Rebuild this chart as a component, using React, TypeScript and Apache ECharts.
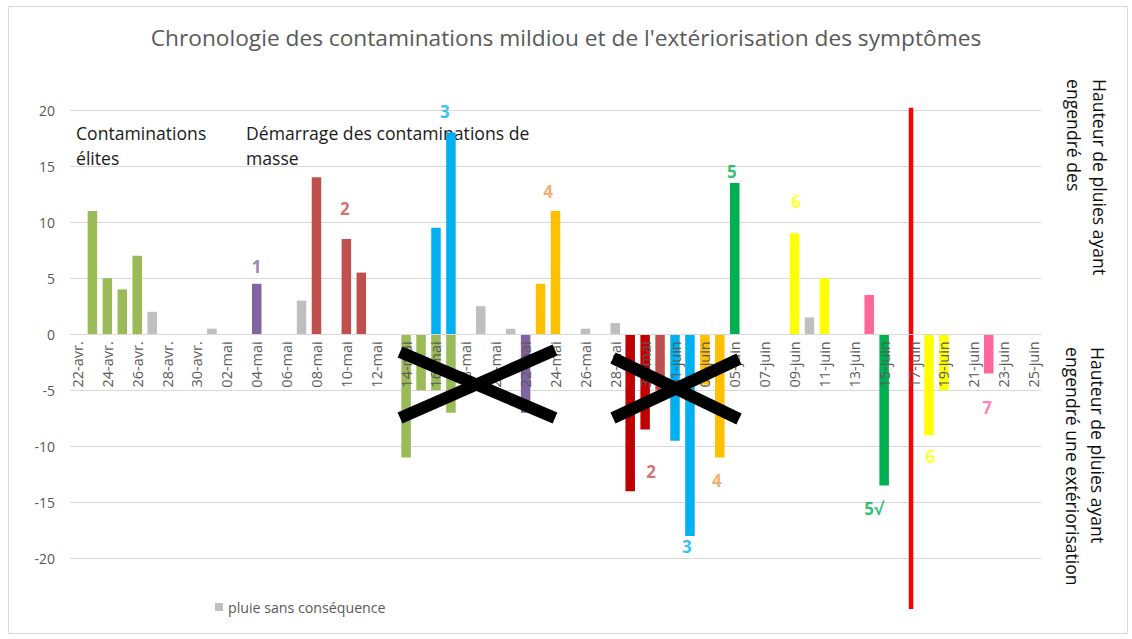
import React, { useEffect, useRef } from "react";
import * as echarts from "echarts";

const titleText = "Chronologie des contaminations mildiou et de l'extériorisation des symptômes";

const categories = [
  "22-avr.", "23-avr.", "24-avr.", "25-avr.", "26-avr.", "27-avr.", "28-avr.", "29-avr.", "30-avr.",
  "01-mai", "02-mai", "03-mai", "04-mai", "05-mai", "06-mai", "07-mai", "08-mai", "09-mai", "10-mai",
  "11-mai", "12-mai", "13-mai", "14-mai", "15-mai", "16-mai", "17-mai", "18-mai", "19-mai", "20-mai",
  "21-mai", "22-mai", "23-mai", "24-mai", "25-mai", "26-mai", "27-mai", "28-mai", "29-mai", "30-mai",
  "31-mai", "01-juin", "02-juin", "03-juin", "04-juin", "05-juin", "06-juin", "07-juin", "08-juin",
  "09-juin", "10-juin", "11-juin", "12-juin", "13-juin", "14-juin", "15-juin", "16-juin", "17-juin",
  "18-juin", "19-juin", "20-juin", "21-juin", "22-juin", "23-juin", "24-juin", "25-juin",
];

const yTicks = { min: -20, max: 20, step: 5 };

// rain heights (mm): positive = contaminating rain, negative = rain that led to symptom appearance
const pluieSansConsequence = [
  ["27-avr.", 2], ["01-mai", 0.5], ["07-mai", 3], ["19-mai", 2.5], ["21-mai", 0.5],
  ["26-mai", 0.5], ["28-mai", 1], ["10-juin", 1.5],
];
const contamElites = [
  ["23-avr.", 11], ["24-avr.", 5], ["25-avr.", 4], ["26-avr.", 7],
  ["14-mai", -11], ["15-mai", -5], ["16-mai", -5], ["17-mai", -7],
];
const contam1 = [["04-mai", 4.5], ["22-mai", -7]];
const contam2 = [["08-mai", 14], ["10-mai", 8.5], ["11-mai", 5.5], ["31-mai", -5]];
const contam2Sortie = [["29-mai", -14], ["30-mai", -8.5]];
const contam3 = [["16-mai", 9.5], ["17-mai", 18], ["01-juin", -9.5], ["02-juin", -18]];
const contam4 = [["23-mai", 4.5], ["24-mai", 11], ["03-juin", -4.5], ["04-juin", -11]];
const contam5 = [["05-juin", 13.5], ["15-juin", -13.5]];
const contam6 = [["09-juin", 9], ["11-juin", 5], ["18-juin", -9], ["19-juin", -5]];
const contam7 = [["14-juin", 3.5], ["22-juin", -3.5]];

// red separator drawn in day units (0 = 22-avr.)
const separatorLine = [[55.8, 20.2], [55.8, -24.5]];

// numbered labels: [day position, height, text]
const numberLabels = [
  [12, 6, "1"], [17.9, 11.2, "2"], [24.6, 19.9, "3"], [31.5, 12.7, "4"],
  [43.8, 14.5, "5"], [48.1, 11.8, "6"],
  [38.4, -12.25, "2"], [40.8, -18.95, "3"], [42.8, -13.0, "4"],
  [53.3, -15.5, "5√"], [57.1, -10.9, "6"], [60.9, -6.56, "7"],
];
const numberLabelColors = [
  "#8064A2", "#C0504D", "#00B0F0", "#F79646", "#00B050", "#FFFF00",
  "#C0504D", "#00B0F0", "#F79646", "#00B050", "#FFFF00", "#FF6699",
];

const barGroups = [
  { name: "pluie sans conséquence", color: "#BFBFBF", data: pluieSansConsequence },
  { name: "Contaminations élites", color: "#9BBB59", data: contamElites },
  { name: "Contamination 1", color: "#8064A2", data: contam1 },
  { name: "Contamination 2", color: "#C0504D", data: contam2 },
  { name: "Contamination 2b", color: "#C00000", data: contam2Sortie },
  { name: "Contamination 3", color: "#00B0F0", data: contam3 },
  { name: "Contamination 4", color: "#FFC000", data: contam4 },
  { name: "Contamination 5", color: "#00B050", data: contam5 },
  { name: "Contamination 6", color: "#FFFF00", data: contam6 },
  { name: "Contamination 7", color: "#FF6699", data: contam7 },
];

const FONT = "'Open Sans', 'Noto Sans', sans-serif";
const GRID_TOP = 110;
const GRID_BOTTOM = 80.5;
const CHART_H = 639;

export default function App() {
  const ref = useRef<HTMLDivElement>(null);

  useEffect(() => {
    if (!ref.current) return;
    const chart = echarts.init(ref.current, undefined, { renderer: "svg" });

    // distance (px) between grid bottom and the value 0, so the category axis sits on zero
    const gridH = CHART_H - GRID_TOP - GRID_BOTTOM;
    const zeroOffset = (gridH * (0 - yTicks.min)) / (yTicks.max - yTicks.min);

    const vText = (text: string, x: number, y: number) => ({
      type: "text",
      x,
      y,
      rotation: -Math.PI / 2,
      z: 50,
      silent: true,
      style: {
        text,
        fontSize: 17.6,
        fontFamily: FONT,
        fill: "#0d0d0d",
        align: "left",
        verticalAlign: "middle",
      },
    });
    const hText = (text: string, x: number, y: number) => ({
      type: "text",
      x,
      y,
      z: 1,
      silent: true,
      style: {
        text,
        fontSize: 17.6,
        lineHeight: 20,
        fontFamily: FONT,
        fill: "#1a1a1a",
        align: "left",
        verticalAlign: "middle",
      },
    });
    const cross = (x1: number, y1: number, x2: number, y2: number) => ({
      type: "line",
      z: 100,
      silent: true,
      shape: { x1, y1, x2, y2 },
      style: { stroke: "#000000", lineWidth: 12, lineCap: "butt" },
    });

    const option: any = {
      animation: false,
      backgroundColor: "#ffffff",
      title: {
        text: titleText,
        left: "center",
        top: 21,
        textStyle: { fontFamily: FONT, fontSize: 22.7, fontWeight: "normal", color: "#595959" },
      },
      legend: {
        data: ["pluie sans conséquence"],
        left: 210,
        top: 595,
        icon: "rect",
        itemWidth: 8,
        itemHeight: 8,
        selectedMode: false,
        textStyle: { fontFamily: FONT, fontSize: 14.2, color: "#595959" },
      },
      grid: { left: 70, right: 91, top: GRID_TOP, bottom: GRID_BOTTOM, containLabel: false },
      xAxis: [
        {
          type: "category",
          data: categories,
          z: 10,
          position: "bottom",
          offset: -zeroOffset,
          axisLine: { onZero: false, lineStyle: { color: "#D9D9D9", width: 1 } },
          axisTick: { interval: 1, length: 5, lineStyle: { color: "#D9D9D9" } },
          axisLabel: {
            interval: 1,
            rotate: 90,
            margin: 7,
            fontSize: 14.5,
            fontFamily: FONT,
            color: "#595959",
          },
          splitLine: { show: false },
        },
        { type: "value", min: -0.5, max: 64.5, show: false, position: "top" },
      ],
      yAxis: {
        type: "value",
        min: yTicks.min,
        max: yTicks.max,
        interval: yTicks.step,
        axisLine: { show: false, onZero: false },
        axisTick: { show: false },
        splitLine: { lineStyle: { color: "#D9D9D9", width: 1 } },
        axisLabel: { fontSize: 14, fontFamily: FONT, color: "#595959", margin: 15 },
      },
      series: [
        ...barGroups.map((g) => ({
          type: "bar",
          name: g.name,
          data: g.data,
          barWidth: 9.5,
          barGap: "-100%",
          itemStyle: { color: g.color },
          z: 2,
        })),
        {
          type: "line",
          name: "séparation",
          xAxisIndex: 1,
          data: separatorLine,
          symbol: "none",
          clip: false,
          lineStyle: { color: "#FF0000", width: 4.5 },
          z: 4,
        },
        {
          type: "scatter",
          name: "numéros",
          xAxisIndex: 1,
          symbolSize: 1,
          silent: true,
          itemStyle: { color: "rgba(0,0,0,0)" },
          z: 20,
          data: numberLabels.map((l, i) => ({
            value: [l[0], l[1]],
            label: {
              show: true,
              position: "inside",
              formatter: String(l[2]),
              color: numberLabelColors[i],
              fontSize: 17,
              lineHeight: 15,
              fontWeight: "bold",
              fontFamily: FONT,
            },
          })),
        },
      ],
      graphic: [
        {
          type: "rect",
          z: -10,
          silent: true,
          shape: { x: 8.5, y: 6.5, width: 1119, height: 627 },
          style: { fill: "none", stroke: "#D9D9D9", lineWidth: 1 },
        },
        hText("Contaminations", 76, 133),
        hText("élites", 76, 158),
        hText("Démarrage des contaminations de", 246, 133),
        hText("masse", 246, 158),
        vText("Hauteur de pluies ayant", 1100, 79),
        vText("engendré des", 1074, 79),
        vText("Hauteur de pluies ayant", 1098, 347),
        vText("engendré une extériorisation", 1073, 347),
        cross(400, 352, 555, 418),
        cross(400, 418, 555, 350),
        cross(613, 358, 739, 419),
        cross(613, 418, 739, 359),
      ],
    };

    chart.setOption(option);
    return () => chart.dispose();
  }, []);

  return (
    <div
      ref={ref}
      style={{ position: "fixed", left: 0, top: 0, width: 1132, height: 639, background: "#fff" }}
    />
  );
}
